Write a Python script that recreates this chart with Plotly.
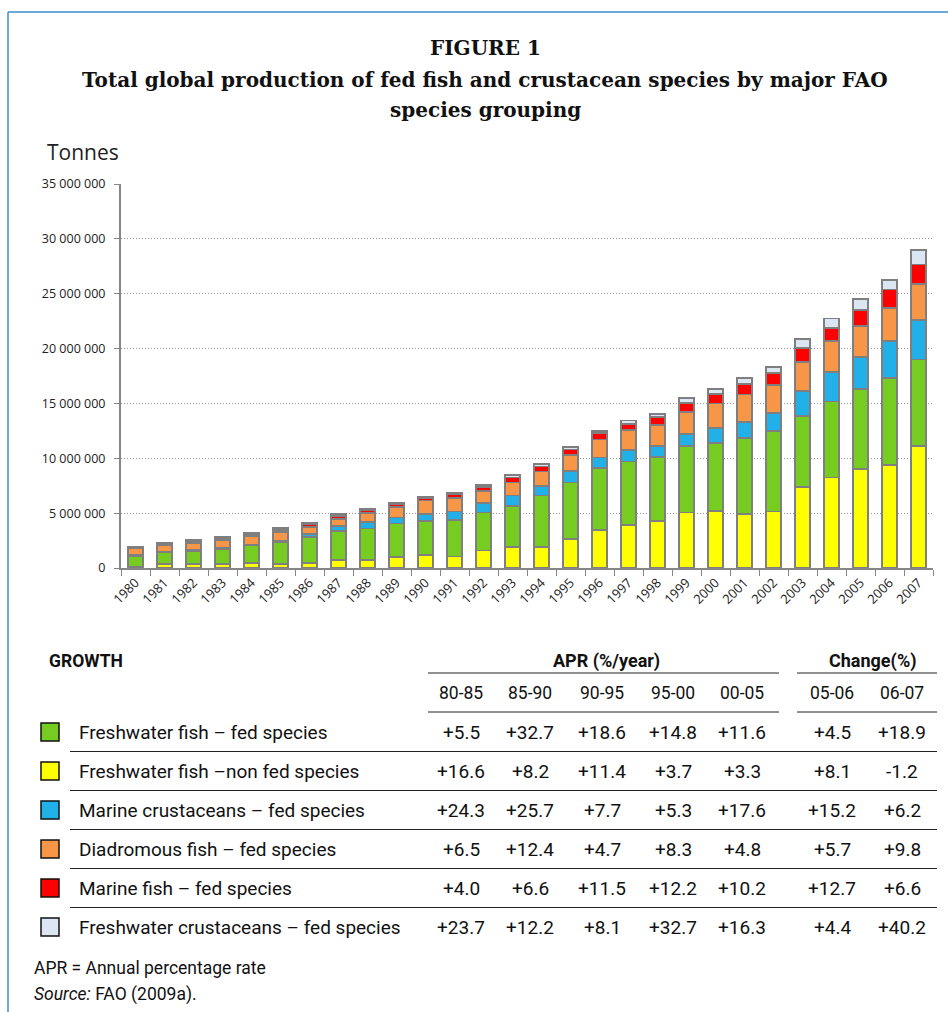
import plotly.graph_objects as go

W, H = 948, 1012

years = [str(y) for y in range(1980, 2008)]

# Stacked series (million tonnes), bottom to top
fw_nonfed = [0.12, 0.35, 0.35, 0.40, 0.45, 0.40, 0.45, 0.75, 0.70, 1.00, 1.15, 1.05, 1.60, 1.90,
             1.90, 2.65, 3.50, 3.95, 4.25, 5.05, 5.20, 4.95, 5.15, 7.40, 8.25, 9.00, 9.40, 11.10]
fw_fed = [1.00, 1.10, 1.20, 1.35, 1.60, 1.95, 2.35, 2.60, 2.90, 3.05, 3.10, 3.30, 3.45, 3.75,
          4.70, 5.15, 5.60, 5.75, 5.85, 6.08, 6.22, 6.87, 7.35, 6.48, 6.93, 7.35, 7.95, 7.90]
marine_crust = [0.05, 0.06, 0.07, 0.08, 0.10, 0.12, 0.30, 0.45, 0.60, 0.55, 0.70, 0.80, 0.85, 0.95,
                0.85, 1.05, 0.97, 1.05, 1.05, 1.12, 1.37, 1.50, 1.64, 2.28, 2.70, 2.90, 3.35, 3.58]
diadromous = [0.60, 0.60, 0.65, 0.75, 0.75, 0.80, 0.65, 0.65, 0.80, 0.95, 1.20, 1.25, 1.15, 1.20,
              1.35, 1.45, 1.65, 1.80, 1.90, 2.00, 2.20, 2.50, 2.55, 2.65, 2.80, 2.80, 3.00, 3.30]
marine_fish = [0.06, 0.10, 0.12, 0.15, 0.20, 0.22, 0.22, 0.28, 0.25, 0.30, 0.25, 0.30, 0.35, 0.45,
               0.45, 0.50, 0.60, 0.60, 0.68, 0.82, 0.88, 0.96, 1.10, 1.25, 1.16, 1.50, 1.68, 1.78]
fw_crust = [0.12, 0.12, 0.13, 0.14, 0.14, 0.14, 0.15, 0.17, 0.15, 0.12, 0.12, 0.12, 0.20, 0.20,
            0.20, 0.20, 0.16, 0.30, 0.30, 0.40, 0.48, 0.55, 0.50, 0.80, 0.90, 0.95, 0.90, 1.35]

y_tick_vals = [0, 5e6, 10e6, 15e6, 20e6, 25e6, 30e6, 35e6]
y_tick_text = ["0", "5 000 000", "10 000 000", "15 000 000", "20 000 000",
               "25 000 000", "30 000 000", "35 000 000"]

# Growth table
table_names = ["Freshwater fish – fed species", "Freshwater fish –non fed species",
               "Marine crustaceans – fed species", "Diadromous fish – fed species",
               "Marine fish – fed species", "Freshwater crustaceans – fed species"]
table_colors = ["#77cc22", "#ffff00", "#22b0e8", "#f79646", "#ff0000", "#dce6f2"]
apr_periods = ["80-85", "85-90", "90-95", "95-00", "00-05"]
change_periods = ["05-06", "06-07"]
apr_values = [
    ["+5.5", "+32.7", "+18.6", "+14.8", "+11.6"],
    ["+16.6", "+8.2", "+11.4", "+3.7", "+3.3"],
    ["+24.3", "+25.7", "+7.7", "+5.3", "+17.6"],
    ["+6.5", "+12.4", "+4.7", "+8.3", "+4.8"],
    ["+4.0", "+6.6", "+11.5", "+12.2", "+10.2"],
    ["+23.7", "+12.2", "+8.1", "+32.7", "+16.3"],
]
change_values = [
    ["+4.5", "+18.9"],
    ["+8.1", "-1.2"],
    ["+15.2", "+6.2"],
    ["+5.7", "+9.8"],
    ["+12.7", "+6.6"],
    ["+4.4", "+40.2"],
]

series = [
    (fw_nonfed, "#ffff00"),
    (fw_fed, "#77cc22"),
    (marine_crust, "#22b0e8"),
    (diadromous, "#f79646"),
    (marine_fish, "#ff0000"),
    (fw_crust, "#dce6f2"),
]


def px(x):
    return x / W


def py(y):
    return 1 - y / H


fig = go.Figure()
for vals, col in series:
    fig.add_trace(go.Bar(
        x=years, y=[v * 1e6 for v in vals],
        marker=dict(color=col, line=dict(color="#7f7f7f", width=1.8)),
        showlegend=False, hoverinfo="skip"))

sans = "Roboto"
annotations = []
shapes = []


def note(text, x, y, size, anchor="center", family=sans, color="#111"):
    annotations.append(dict(text=text, x=px(x), y=py(y), xref="paper", yref="paper",
                            showarrow=False, xanchor=anchor, yanchor="middle",
                            font=dict(family=family, size=size, color=color)))


def hline(x0, x1, y, color="#222", width=1):
    shapes.append(dict(type="line", xref="paper", yref="paper", x0=px(x0), x1=px(x1),
                       y0=py(y), y1=py(y), line=dict(color=color, width=width)))


# Frame
hline(8, W, 12, color="#3a8fd0", width=1.5)
shapes.append(dict(type="line", xref="paper", yref="paper", x0=px(8), x1=px(8), y0=py(12), y1=0,
                   line=dict(color="#3a8fd0", width=1.5)))

# Titles
note("<b>FIGURE 1</b>", 485, 48, 20, family="DejaVu Serif")
note("<b>Total global production of fed fish and crustacean species by major FAO</b>",
     485, 80, 20, family="DejaVu Serif")
note("<b>species grouping</b>", 485, 110, 20, family="DejaVu Serif")
note("Tonnes", 45, 152, 21, anchor="left", family="Open Sans", color="#222")

# Table headers
note("<b>GROWTH</b>", 47, 661, 17.5, anchor="left")
note("<b>APR (%/year)</b>", 606, 661, 18)
note("<b>Change(%)</b>", 873, 661, 18)

apr_x = [461, 530, 602, 673, 742]
chg_x = [832, 902]
for yline in (673, 712):
    hline(428, 779, yline)
    hline(797, 937, yline)
for lab, xx in zip(apr_periods, apr_x):
    note(lab, xx, 693, 17.5)
for lab, xx in zip(change_periods, chg_x):
    note(lab, xx, 693, 17.5)

row_y0 = 732
row_dy = 39
for i, name in enumerate(table_names):
    yy = row_y0 + i * row_dy
    shapes.append(dict(type="rect", xref="paper", yref="paper", x0=px(41), x1=px(59),
                       y0=py(yy - 9), y1=py(yy + 9), fillcolor=table_colors[i],
                       line=dict(color="#111", width=1.5)))
    note(name, 77, yy, 19, anchor="left")
    for v, xx in zip(apr_values[i], apr_x):
        note(v, xx, yy, 19)
    for v, xx in zip(change_values[i], chg_x):
        note(v, xx, yy, 19)
    if i < len(table_names) - 1:
        hline(70, 937, yy + 19.5)

note("APR = Annual percentage rate", 32, 968, 17.5, anchor="left")
note("<i>Source:</i> FAO (2009a).", 32, 994, 17.5, anchor="left")

fig.update_layout(
    width=W, height=H, autosize=False,
    margin=dict(l=0, r=0, t=0, b=0, pad=0, autoexpand=False),
    paper_bgcolor="white", plot_bgcolor="white",
    barmode="stack", bargap=0.46,
    showlegend=False,
    annotations=annotations,
    shapes=shapes,
    xaxis=dict(domain=[px(121), px(933)], type="category", tickangle=-45, automargin=False,
               showline=True, linecolor="#868686", linewidth=2,
               ticks="outside", tickson="boundaries", ticklen=6, tickcolor="#868686",
               tickfont=dict(family="Open Sans", size=13, color="#222"),
               showgrid=False),
    yaxis=dict(domain=[py(568), py(184)], range=[0, 35e6], automargin=False,
               tickvals=y_tick_vals, ticktext=y_tick_text,
               showline=True, linecolor="#868686", linewidth=2,
               ticks="outside", ticklen=5, tickcolor="#868686", ticklabelstandoff=6,
               tickfont=dict(family="Open Sans", size=12.5, color="#222"),
               showgrid=True, gridcolor="#9a9a9a", griddash="1px,2px", gridwidth=1,
               zeroline=False),
)

fig.write_html("out.html", config={"displayModeBar": False},
               post_script="document.body.style.margin='0';")
